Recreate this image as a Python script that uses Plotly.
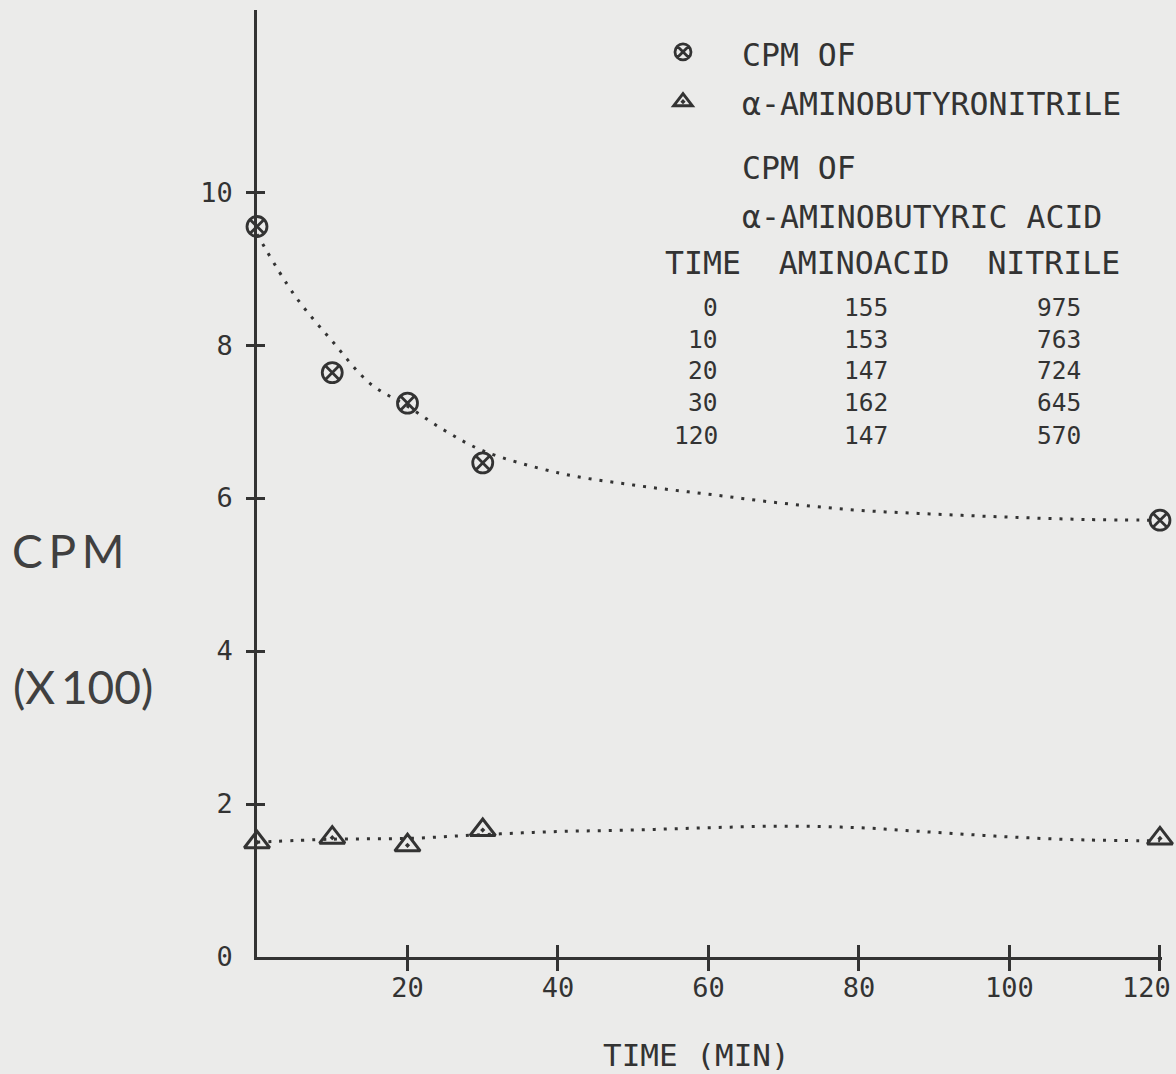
import plotly.graph_objects as go

# ---- data ----
time_min = [0, 10, 20, 30, 120]
table_aminoacid = [155, 153, 147, 162, 147]
table_nitrile = [975, 763, 724, 645, 570]

# plotted marker positions (CPM x100)
nitrile_plot = [9.55, 7.64, 7.24, 6.46, 5.71]
aminoacid_plot = [1.50, 1.56, 1.46, 1.66, 1.55]

# hand-drawn dotted fit curves
nitrile_fit_t = [0, 5, 10, 15, 20, 25, 30, 40, 50, 60, 70, 80, 90, 100, 110, 120]
nitrile_fit_v = [9.45, 8.65, 8.05, 7.5, 7.2, 6.88, 6.62, 6.33, 6.17, 6.05, 5.93, 5.84, 5.79, 5.75, 5.72, 5.71]
amino_fit_t = [0, 10, 20, 30, 40, 50, 60, 70, 80, 90, 100, 110, 120]
amino_fit_v = [1.50, 1.54, 1.55, 1.60, 1.64, 1.66, 1.69, 1.71, 1.69, 1.63, 1.57, 1.53, 1.52]

x_ticks = [20, 40, 60, 80, 100, 120]
x_tick_labels = ["20", "40", "60", "80", "100", "120"]
y_ticks = [0, 2, 4, 6, 8, 10]
y_tick_marks = [2, 4, 6, 8, 10]

INK = "#333333"
BG = "#ebebea"
MONO = "DejaVu Sans Mono"

W, H = 1176, 1074
ML, MR, MT, MB = 257, 14, 10, 117
X_RANGE = [0, 120.27]
Y_RANGE = [0, 12.38]


def px(xp):
    return (xp - ML) / (W - ML - MR)


def py(yp):
    return (H - MB - yp) / (H - MT - MB)


fig = go.Figure()

dot_line = dict(color=INK, width=3, dash="3px,8px")
fig.add_trace(go.Scatter(x=nitrile_fit_t, y=nitrile_fit_v, mode="lines",
                         line=dict(shape="spline", smoothing=1.0, **dot_line),
                         showlegend=False, hoverinfo="skip", cliponaxis=False))
fig.add_trace(go.Scatter(x=amino_fit_t, y=amino_fit_v, mode="lines",
                         line=dict(shape="spline", smoothing=1.0, **dot_line),
                         showlegend=False, hoverinfo="skip", cliponaxis=False))

fig.add_trace(go.Scatter(x=time_min, y=nitrile_plot, mode="markers", name="\u00a0",
                         marker=dict(symbol="circle-x-open", size=20, color=INK,
                                     line=dict(width=2.8, color=INK)),
                         cliponaxis=False, legendgroup="a"))
fig.add_trace(go.Scatter(x=time_min, y=aminoacid_plot, mode="markers", name="\u00a0",
                         marker=dict(symbol="triangle-up-open-dot", size=22, color=INK,
                                     line=dict(width=3, color=INK)),
                         cliponaxis=False, legendgroup="b"))

# dummy traces so the overlay axes (crossing tick marks) are drawn
fig.add_trace(go.Scatter(x=[None], y=[None], xaxis="x2", yaxis="y2",
                         showlegend=False, hoverinfo="skip"))
fig.add_trace(go.Scatter(x=[None], y=[None], xaxis="x", yaxis="y3",
                         showlegend=False, hoverinfo="skip"))

# the last x label sits at the right edge of the page: draw it right-aligned
axis_tick_text = x_tick_labels[:-1] + [""]

tickfont = dict(family=MONO, size=27, color=INK)
fig.update_layout(
    width=W, height=H,
    margin=dict(l=ML, r=MR, t=MT, b=MB, autoexpand=False),
    paper_bgcolor=BG, plot_bgcolor=BG,
    showlegend=True,
    legend=dict(x=px(663), y=py(22), xanchor="left", yanchor="top",
                font=dict(family=MONO, size=36, color=INK),
                bgcolor="rgba(0,0,0,0)", tracegroupgap=0, traceorder="normal"),
    xaxis=dict(range=X_RANGE, showgrid=False, zeroline=False, automargin=False,
               showline=True, linecolor=INK, linewidth=2.8,
               tickvals=x_ticks, ticktext=axis_tick_text,
               ticks="outside", ticklen=11, tickwidth=2.5,
               tickcolor=INK, tickfont=tickfont, ticklabelstandoff=-6),
    yaxis=dict(range=Y_RANGE, showgrid=False, zeroline=False, automargin=False,
               showline=True, linecolor=INK, linewidth=2.8,
               tickvals=y_ticks, ticks="", tickfont=tickfont,
               ticklabelstandoff=16),
    xaxis2=dict(range=X_RANGE, overlaying="x", anchor="y2", side="bottom",
                showgrid=False, zeroline=False, showline=False, automargin=False,
                tickvals=x_ticks, ticks="inside", ticklen=12, tickwidth=2.5,
                tickcolor=INK, showticklabels=False),
    yaxis2=dict(range=Y_RANGE, overlaying="y", anchor="x2", side="left",
                showgrid=False, zeroline=False, showline=False, automargin=False,
                tickvals=y_tick_marks, ticks="inside", ticklen=8, tickwidth=2.5,
                tickcolor=INK, showticklabels=False),
    yaxis3=dict(range=Y_RANGE, overlaying="y", anchor="x", side="left",
                showgrid=False, zeroline=False, showline=False, automargin=False,
                tickvals=y_tick_marks, ticks="outside", ticklen=10, tickwidth=2.5,
                tickcolor=INK, showticklabels=False),
)

ann = []
headfont = dict(family=MONO, size=31.5, color=INK)
rowfont = dict(family=MONO, size=24.5, color=INK)


def add_text(text, xp, yp, xanchor="left", font=headfont):
    ann.append(dict(text=text, x=px(xp), y=py(yp), xref="paper", yref="paper",
                    xanchor=xanchor, yanchor="middle", showarrow=False, font=font))


add_text(x_tick_labels[-1], 1173, 987, xanchor="right", font=tickfont)

add_text("CPM OF", 740, 55)
add_text("\u03b1-AMINOBUTYRONITRILE", 740, 104)
add_text("CPM OF", 740, 168)
add_text("\u03b1-AMINOBUTYRIC ACID", 740, 217)
add_text("TIME\u00a0\u00a0AMINOACID\u00a0\u00a0NITRILE", 663, 263)
row_y0, row_dy = 307, 32
for i, (t, a, n) in enumerate(zip(time_min, table_aminoacid, table_nitrile)):
    yy = row_y0 + i * row_dy
    add_text(str(t), 720, yy, xanchor="right", font=rowfont)
    add_text(str(a), 890, yy, xanchor="right", font=rowfont)
    add_text(str(n), 1083, yy, xanchor="right", font=rowfont)

add_text("TIME (MIN)", 696, 1055, xanchor="center",
         font=dict(family=MONO, size=31, color=INK))
add_text("C\u2009P\u2009M", 10, 551,
         font=dict(family="Lato", size=46, color="#404040"))
add_text("(X\u2009100)", 11, 686,
         font=dict(family="Lato", size=46, color="#404040"))

fig.update_layout(annotations=ann)

fig.write_html("out.html", config={"displayModeBar": False},
               post_script="document.body.style.margin='0';document.body.style.overflow='hidden';")
